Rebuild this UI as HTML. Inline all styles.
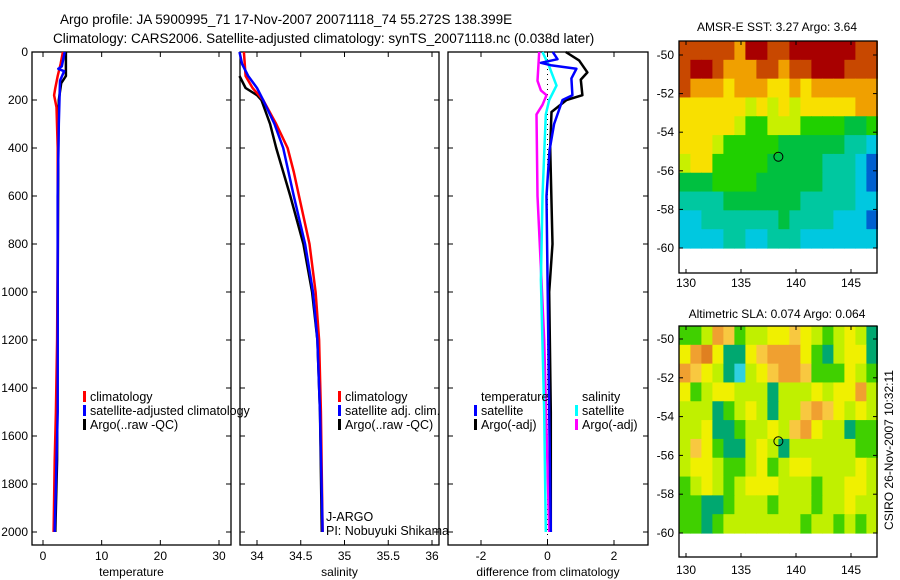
<!DOCTYPE html>
<html><head><meta charset="utf-8"><style>
body{margin:0;background:#fff;}
svg{display:block;font-family:"Liberation Sans",sans-serif;}
</style></head><body>
<svg id="fig" width="900" height="580" viewBox="0 0 900 580">
<text x="60" y="24" font-size="13.5">Argo profile: JA 5900995_71 17-Nov-2007 20071118_74 55.272S 138.399E</text>
<text x="53" y="43" font-size="13.5">Climatology: CARS2006. Satellite-adjusted climatology: synTS_20071118.nc (0.038d later)</text>
<text x="777" y="31" font-size="12" text-anchor="middle">AMSR-E SST: 3.27 Argo: 3.64</text>
<text x="777" y="318" font-size="12" text-anchor="middle">Altimetric SLA: 0.074 Argo: 0.064</text>
<text transform="translate(893,450) rotate(-90)" font-size="12" text-anchor="middle">CSIRO 26-Nov-2007 10:32:11</text>
</svg>
<script>
// ---- data ----
const depthTicks=[0,200,400,600,800,1000,1200,1400,1600,1800,2000];
const tempTicks=[0,10,20,30];
const salTicks=[34,34.5,35,35.5,36];
const salTickLabels=["34","34.5","35","35.5","36"];
const diffTicks=[-2,0,2];
const tClimD=[0,50,100,150,180,230,400,800,1200,1500,1700,2000];
const tClimV=[3.4,3.0,2.5,2.1,1.9,2.3,2.5,2.5,2.4,2.2,2.0,1.8];
const tSatD=[0,60,70,80,120,300,600,1000,1500,2000];
const tSatV=[3.7,3.2,2.6,3.6,2.9,2.7,2.5,2.5,2.5,2.0];
const tArgoD=[0,100,130,200,400,1000,1700,2000];
const tArgoV=[3.9,3.9,3.1,2.7,2.6,2.5,2.4,2.1];
const sClimD=[0,100,150,200,300,400,500,600,800,1000,1200,1500,2000];
const sClimV=[33.85,33.87,33.95,34.07,34.22,34.35,34.42,34.48,34.6,34.67,34.71,34.73,34.75];
const sSatD=[0,50,100,150,200,300,400,600,800,1000,1200,1500,2000];
const sSatV=[33.80,33.83,33.9,34.0,34.07,34.2,34.3,34.42,34.55,34.64,34.69,34.72,34.75];
const sArgoD=[100,150,180,200,300,400,600,800,1000,1200,1500,2000];
const sArgoV=[33.80,33.87,34.0,34.05,34.15,34.22,34.38,34.53,34.63,34.69,34.72,34.74];
const dTArgoD=[0,35,85,115,180,200,250,400,800,1000,1500,2000];
const dTArgoV=[0.55,0.95,1.2,1.0,1.05,0.57,0.12,0.08,0.15,0.05,0.1,0.1];
const dTSatD=[0,30,45,55,70,110,180,200,300,410,600,1500,2000];
const dTSatV=[0.16,0.3,-0.2,0.1,0.87,0.72,0.75,0.45,0.2,0.06,-0.03,0.05,0.1];
const dSSatD=[0,60,140,200,260,600,950,1500,2000];
const dSSatV=[-0.15,0.05,0.27,0.05,-0.05,-0.15,-0.2,-0.1,-0.05];
const dSArgoD=[0,120,160,180,220,260,600,900,1200,2000];
const dSArgoV=[-0.25,-0.3,-0.2,-0.03,-0.15,-0.33,-0.3,-0.2,-0.1,0.05];
const mapLonTicks=[130,135,140,145];
const mapLatTicks=[-50,-52,-54,-56,-58,-60];
const argoLon=138.399, argoLat=-55.272;
const sstGrid=[
[8,8,8,8,8,7,9,9,8,8,9,9,9,9,9,9,8,8],
[8,9,9,8,7,7,7,8,8,7,8,8,9,9,9,8,8,8],
[8,7,7,7,6,7,7,7,6,6,7,6,7,7,7,7,7,7],
[6,6,6,6,6,6,5,6,5,6,5,6,6,6,6,6,7,7],
[6,6,6,6,6,5,4,4,5,5,5,4,4,4,4,3,3,4],
[6,6,6,5,4,4,4,4,4,3,3,3,3,3,3,2,2,1],
[5,6,6,4,4,4,4,4,3,3,3,3,3,2,2,2,1,0],
[3,3,3,4,4,4,4,3,3,3,3,3,3,2,2,2,1,0],
[2,2,2,2,3,3,3,3,3,3,3,2,2,2,2,2,1,1],
[1,1,2,2,2,2,2,2,2,3,2,2,2,2,1,1,1,0],
[1,1,1,1,2,2,1,1,2,2,2,1,1,1,1,1,1,1]];
const slaGrid=[
[2,2,3,6,5,2,3,3,4,4,5,4,3,2,3,4,3,1],
[4,6,7,4,1,1,4,5,6,6,6,4,2,1,3,4,4,1],
[6,5,4,3,1,0,3,4,5,6,6,5,2,2,2,4,3,2],
[4,2,3,4,4,3,3,3,1,3,3,3,4,3,4,4,6,3],
[3,3,3,1,2,3,4,3,1,3,3,5,6,5,4,3,4,3],
[3,3,4,1,1,2,3,3,4,3,5,6,4,3,3,1,2,2],
[3,5,4,2,1,1,3,4,3,1,3,3,3,3,3,3,2,2],
[3,4,4,3,2,2,3,4,2,3,4,4,3,3,3,3,4,3],
[2,3,4,3,2,3,4,4,4,3,3,3,2,3,3,4,4,3],
[2,2,1,1,2,3,3,3,2,3,3,3,2,3,3,4,3,3],
[2,2,1,2,3,3,3,3,3,3,3,2,3,3,2,3,2,3]];
const sstColors=["#0060d0","#00c8e0","#00c8a0","#00c040","#20d000","#c8f000","#f8e000","#f0a000","#c84800","#a80000"];
const slaColors=["#30d0e0","#00a870","#40d000","#c0f000","#f0f000","#f8c840","#f0a030","#e08020"];

// ---- helpers ----
const NS="http://www.w3.org/2000/svg";
const svg=document.getElementById('fig');
function mk(tag,attrs,parent){const e=document.createElementNS(NS,tag);for(const k in attrs)e.setAttribute(k,attrs[k]);(parent||svg).appendChild(e);return e;}
function lin(d0,d1,r0,r1){return v=>r0+(v-d0)*(r1-r0)/(d1-d0);}

const Y=lin(0,2000,52,532);
const PT=52,PB=545;
// ---- profile panels ----
const panels=[
 {x0:32,x1:231,sx:lin(0,30,43,219),ticks:tempTicks,labels:tempTicks.map(String),title:"temperature",name:"temperature"},
 {x0:240,x1:439,sx:lin(34,36,257,432),ticks:salTicks,labels:salTickLabels,title:"salinity",name:"salinity"},
 {x0:448,x1:648,sx:lin(-2,2,481,614),ticks:diffTicks,labels:diffTicks.map(String),title:"difference from climatology",name:"difference"}
];
panels.forEach((p,i)=>{
 const g=mk('g',{});
 
 
 const r=mk('rect',{x:p.x0,y:PT,width:p.x1-p.x0,height:PB-PT,fill:'none',stroke:'#000','stroke-width':1.3},g);
 
 
 p.ticks.forEach((t,j)=>{
  const x=p.sx(t);
  mk('line',{x1:x,x2:x,y1:PB,y2:PB-5,stroke:'#000'},g);
  mk('line',{x1:x,x2:x,y1:PT,y2:PT+5,stroke:'#000'},g);
  const tx=mk('text',{x:x,y:PB+15,'font-size':12,'text-anchor':'middle'},g);
  tx.textContent=p.labels[j];
  
  
 });
 depthTicks.forEach(d=>{
  const y=Y(d);
  mk('line',{x1:p.x0,x2:p.x0+5,y1:y,y2:y,stroke:'#000'},g);
  mk('line',{x1:p.x1,x2:p.x1-5,y1:y,y2:y,stroke:'#000'},g);
  if(i===0){
   const tx=mk('text',{x:28,y:y+4,'font-size':12,'text-anchor':'end'},g);
   tx.textContent=String(d);
   
   
  }
 });
 const tt=mk('text',{x:(p.x0+p.x1)/2,y:576,'font-size':12,'text-anchor':'middle'},g);
 tt.textContent=p.title;
 
 
});
function stepLine(D,V,sx,color,name,w){
 let pts=[];
 for(let k=0;k<D.length;k++){pts.push(sx(V[k]).toFixed(1)+','+Y(D[k]).toFixed(1));}
 const pl=mk('polyline',{points:pts.join(' '),fill:'none',stroke:color,'stroke-width':w||2.5,'stroke-linejoin':'round'});
 
 
}
const zl=mk('line',{x1:panels[2].sx(0),x2:panels[2].sx(0),y1:PT+2,y2:PB-2,stroke:'#000','stroke-dasharray':'1,4','stroke-width':1});


stepLine(tArgoD,tArgoV,panels[0].sx,'#000','temp-argo-line');
stepLine(tClimD,tClimV,panels[0].sx,'#f00','temp-climatology-line');
stepLine(tSatD,tSatV,panels[0].sx,'#00f','temp-satellite-line');
stepLine(sArgoD,sArgoV,panels[1].sx,'#000','sal-argo-line');
stepLine(sClimD,sClimV,panels[1].sx,'#f00','sal-climatology-line');
stepLine(sSatD,sSatV,panels[1].sx,'#00f','sal-satellite-line');
stepLine(dSArgoD,dSArgoV,panels[2].sx,'#f0f','diff-sal-argo-line');
stepLine(dSSatD,dSSatV,panels[2].sx,'#0ff','diff-sal-satellite-line');
stepLine(dTArgoD,dTArgoV,panels[2].sx,'#000','diff-temp-argo-line');
stepLine(dTSatD,dTSatV,panels[2].sx,'#00f','diff-temp-satellite-line');

// ---- legends ----
function legend(x,y,color,label,name){
 const g=mk('g',{});
 
 
 if(color) mk('rect',{x:x-7,y:y-6,width:3,height:11,fill:color},g);
 const t=mk('text',{x:x,y:y+4,'font-size':12.5},g);
 t.textContent=label;
}
legend(90,397,'#f00','climatology','legend-entry-climatology');
legend(90,411,'#00f','satellite-adjusted climatology','legend-entry-satellite-adjusted');
legend(90,425,'#000','Argo(..raw -QC)','legend-entry-argo');
legend(345,397,'#f00','climatology','legend-entry-sal-climatology');
legend(345,411,'#00f','satellite adj. clim.','legend-entry-sal-satellite');
legend(345,425,'#000','Argo(..raw -QC)','legend-entry-sal-argo');
legend(481,397,null,'temperature','legend-header-temperature');
legend(481,411,'#00f','satellite','legend-entry-diff-temp-satellite');
legend(481,425,'#000','Argo(-adj)','legend-entry-diff-temp-argo');
legend(582,397,null,'salinity','legend-header-salinity');
legend(582,411,'#0ff','satellite','legend-entry-diff-sal-satellite');
legend(582,425,'#f0f','Argo(-adj)','legend-entry-diff-sal-argo');
legend(326,517,null,'J-ARGO','program-label');
legend(326,531,null,'PI: Nobuyuki Shikama','pi-label');

// ---- maps ----
function drawMap(top,bottom,latTopY,lat60Y,grid,colors,name,labelY){
 const x0=679,x1=877;
 const sx=lin(130,145,686,851);
 const sy=lin(-50,-60,latTopY,lat60Y);
 const g=mk('g',{});
 
 
 const nr=grid.length,nc=grid[0].length;
 const lonW=(147.4-129.4)/nc;
 const latStart=-50+(latTopY-top)/((lat60Y-latTopY)/10);
 const latH=(latStart-(-60))/nr;
 for(let r=0;r<nr;r++)for(let c=0;c<nc;c++){
  const lon=129.4+c*lonW, la=latStart-r*latH;
  const xa=sx(lon), xb=sx(lon+lonW), ya=sy(la), yb=sy(la-latH);
  const cell=mk('rect',{x:xa.toFixed(2),y:ya.toFixed(2),width:(xb-xa+0.6).toFixed(2),height:(yb-ya+0.6).toFixed(2),fill:colors[grid[r][c]]},g);
  
  
 }
 const b=mk('rect',{x:x0,y:top,width:x1-x0,height:bottom-top,fill:'none',stroke:'#000','stroke-width':1.3},g);
 
 
 mapLonTicks.forEach(l=>{
  const x=sx(l);
  mk('line',{x1:x,x2:x,y1:top,y2:top+4,stroke:'#000'},g);
  mk('line',{x1:x,x2:x,y1:bottom,y2:bottom-4,stroke:'#000'},g);
  const t=mk('text',{x:x,y:labelY,'font-size':12,'text-anchor':'middle'},g);
  t.textContent=String(l);
  
  
 });
 mapLatTicks.forEach(l=>{
  const y=sy(l);
  mk('line',{x1:x0,x2:x0+4,y1:y,y2:y,stroke:'#000'},g);
  mk('line',{x1:x1,x2:x1-4,y1:y,y2:y,stroke:'#000'},g);
  const t=mk('text',{x:674,y:y+4,'font-size':12,'text-anchor':'end'},g);
  t.textContent=String(l);
  
  
 });
 const c=mk('circle',{cx:sx(argoLon),cy:sy(argoLat),r:4.5,fill:'none',stroke:'#000','stroke-width':1},g);
 
 
}
drawMap(41,273,55,248,sstGrid,sstColors,'sst',287);
drawMap(326,557,339,533,slaGrid,slaColors,'sla',574);
</script>
</body></html>
